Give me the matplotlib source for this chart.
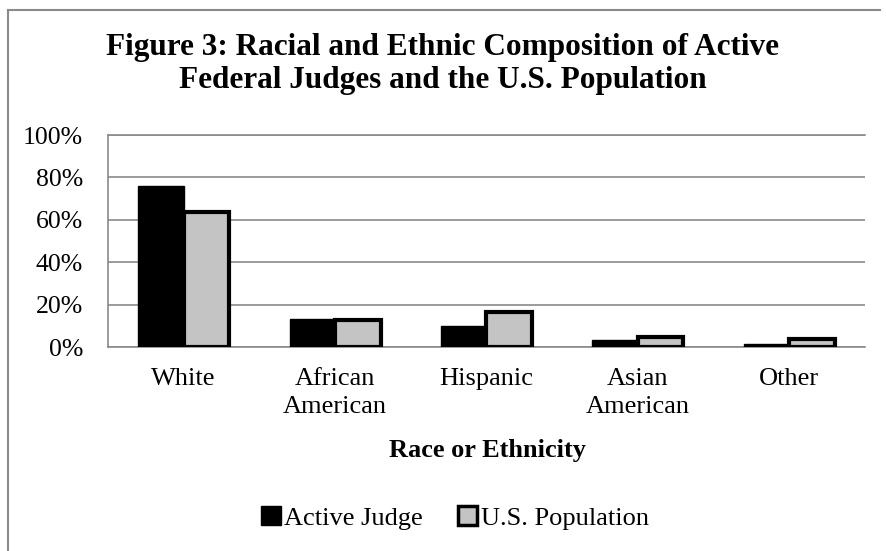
import matplotlib
matplotlib.use("Agg")
import matplotlib.pyplot as plt
import numpy as np
from matplotlib.lines import Line2D
from matplotlib.patches import Patch

# data
categories = ["White", "African\nAmerican", "Hispanic", "Asian\nAmerican", "Other"]
active_judge = [76.0, 13.0, 9.8, 3.4, 1.5]
us_population = [63.7, 12.6, 16.3, 4.8, 4.0]
yticks = [0, 20, 40, 60, 80, 100]

plt.rcParams['font.family'] = ['Liberation Serif', 'DejaVu Serif']

W, H = 886, 551
fig = plt.figure(figsize=(W / 100, H / 100), dpi=100)
ax = fig.add_axes([108 / W, 1 - 347 / H, 757 / W, 212 / H])

x = np.arange(len(categories))
w = 0.3
ax.bar(x - w / 2, active_judge, w, color='black', edgecolor='black', linewidth=1, zorder=3)
ax.bar(x + w / 2, us_population, w, color='#c4c4c4', edgecolor='black', linewidth=3, zorder=3)

ax.set_xlim(-0.5, len(categories) - 0.5)
ax.set_ylim(0, 100)
ax.set_yticks(yticks)
ax.set_yticklabels([f"{v}%" for v in yticks], fontsize=18.5)
ax.set_xticks(x)
ax.set_xticklabels(categories, fontsize=19, linespacing=1.35)
ax.tick_params(length=0)
ax.tick_params(axis='x', pad=15)
ax.tick_params(axis='y', pad=18)
ax.yaxis.grid(True, color='#8a8a8a', linewidth=1.2, zorder=0)
for s in ['left', 'top', 'bottom']:
    ax.spines[s].set_color('#8a8a8a')
    ax.spines[s].set_linewidth(1.2)
ax.spines['right'].set_visible(False)

fig.text(487 / W, 1 - 457 / H, "Race or Ethnicity", ha='center', va='baseline',
         fontsize=19, fontweight='bold')

fig.text(443 / W, 1 - 55 / H, "Figure 3: Racial and Ethnic Composition of Active",
         ha='center', va='baseline', fontsize=22.5, fontweight='bold')
fig.text(443 / W, 1 - 88 / H, "Federal Judges and the U.S. Population",
         ha='center', va='baseline', fontsize=22.5, fontweight='bold')

handles = [Patch(facecolor='black', edgecolor='black'),
           Patch(facecolor='#c4c4c4', edgecolor='black', linewidth=2.5)]
fig.legend(handles, ["Active Judge", "U.S. Population"], loc='center',
           bbox_to_anchor=(455 / W, 1 - 518 / H), ncol=2, frameon=False,
           fontsize=19, handlelength=0.75, handleheight=0.75, handletextpad=0.15,
           columnspacing=1.3, borderpad=0)

# scanned page border
fig.add_artist(Line2D([8 / W, 8 / W], [0, 1 - 10 / H], color='#8a8a8a', lw=1.5))
fig.add_artist(Line2D([8 / W, 880 / W], [1 - 10 / H, 1 - 10 / H], color='#8a8a8a', lw=1.5))

fig.savefig("out.png", dpi=100)
